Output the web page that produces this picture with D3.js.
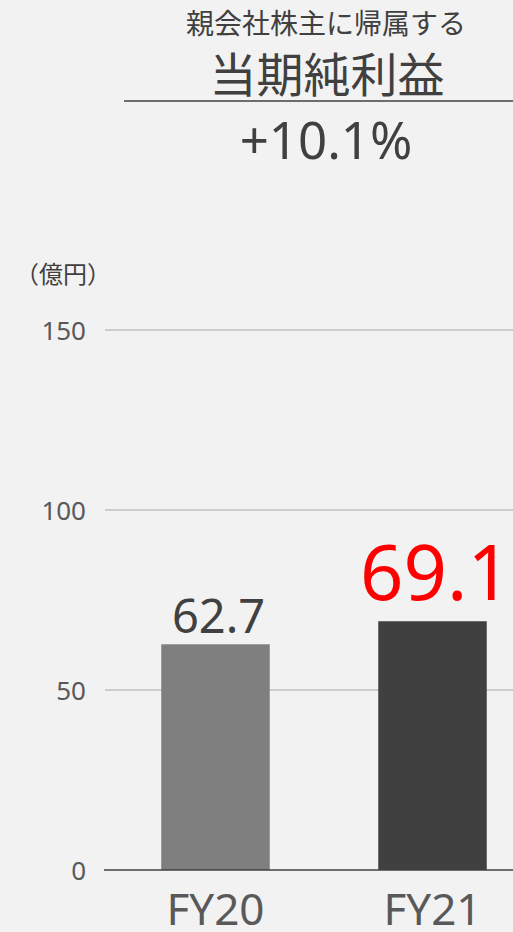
<!DOCTYPE html>
<html><head><meta charset="utf-8">
<script src="https://cdn.jsdelivr.net/npm/d3@7"></script>
<style>
html,body{margin:0;padding:0;background:#f2f2f2;}
svg{display:block;font-family:"Noto Sans","Noto Sans CJK JP",sans-serif;}
</style></head>
<body><svg id="c" width="513" height="932"></svg>
<script>
const categories = ["FY20", "FY21"];
const values = [62.7, 69.1];
const valueLabels = ["62.7", "69.1"];
const yTicks = [0, 50, 100, 150];
const titleSmall = "親会社株主に帰属する";
const titleLarge = "当期純利益";
const growthText = "+10.1%";
const unitText = "（億円）";

const svg = d3.select("#c");
svg.append("rect").attr("width",513).attr("height",932).attr("fill","#f2f2f2");

const y = d3.scaleLinear().domain([0,150]).range([870,330]);
const x = d3.scaleBand().domain(categories).range([107,541]).paddingInner(0.5).paddingOuter(0.25);

const yAxis = d3.axisLeft(y).tickValues(yTicks).tickSize(0).tickPadding(0);
const gAxis = svg.append("g").attr("transform","translate(86,0)").call(yAxis);
gAxis.select(".domain").remove();
gAxis.selectAll("text").attr("font-size",26).attr("fill","#595959").attr("font-family","'Noto Sans',sans-serif").attr("dy","0.35em");

svg.append("g").selectAll("line").data(yTicks.filter(d=>d>0)).join("line")
  .attr("x1",105).attr("x2",513).attr("y1",d=>y(d)).attr("y2",d=>y(d))
  .attr("stroke","#a6a6a6").attr("stroke-width",1);

const colors = ["#7f7f7f","#404040"];
svg.append("g").selectAll("rect").data(values).join("rect")
  .attr("x",(d,i)=>x(categories[i])).attr("width",x.bandwidth())
  .attr("y",d=>y(d)).attr("height",d=>y(0)-y(d))
  .attr("fill",(d,i)=>colors[i]);

svg.append("line").attr("x1",104).attr("x2",513).attr("y1",y(0)).attr("y2",y(0))
  .attr("stroke","#404040").attr("stroke-width",1.5);

svg.append("text").attr("x",x(categories[0])+x.bandwidth()/2+3).attr("y",y(values[0])-11)
  .attr("text-anchor","middle").attr("font-size",47).attr("fill","#404040").text(valueLabels[0]);
svg.append("text").attr("x",x(categories[1])+x.bandwidth()/2+3).attr("y",y(values[1])-21)
  .attr("text-anchor","middle").attr("font-size",76).attr("fill","#ff0000").text(valueLabels[1]);

svg.append("g").selectAll("text").data(categories).join("text")
  .attr("x",d=>x(d)+x.bandwidth()/2).attr("y",925)
  .attr("text-anchor","middle").attr("font-size",44).attr("fill","#595959").text(d=>d);

svg.append("text").attr("x",63).attr("y",283).attr("text-anchor","middle")
  .attr("font-size",24).attr("fill","#404040").attr("font-family","'Noto Sans CJK JP',sans-serif").text(unitText);

svg.append("text").attr("x",326).attr("y",34).attr("text-anchor","middle")
  .attr("font-size",28).attr("fill","#404040").attr("font-family","'Noto Sans CJK JP',sans-serif").text(titleSmall);
svg.append("text").attr("x",327).attr("y",92).attr("text-anchor","middle")
  .attr("font-size",47).attr("fill","#404040").attr("font-family","'Noto Sans CJK JP',sans-serif").text(titleLarge);
svg.append("line").attr("x1",124).attr("x2",513).attr("y1",101).attr("y2",101)
  .attr("stroke","#404040").attr("stroke-width",1.5);
svg.append("text").attr("x",326).attr("y",159).attr("text-anchor","middle")
  .attr("font-size",51).attr("fill","#404040").text(growthText);
</script></body></html>
